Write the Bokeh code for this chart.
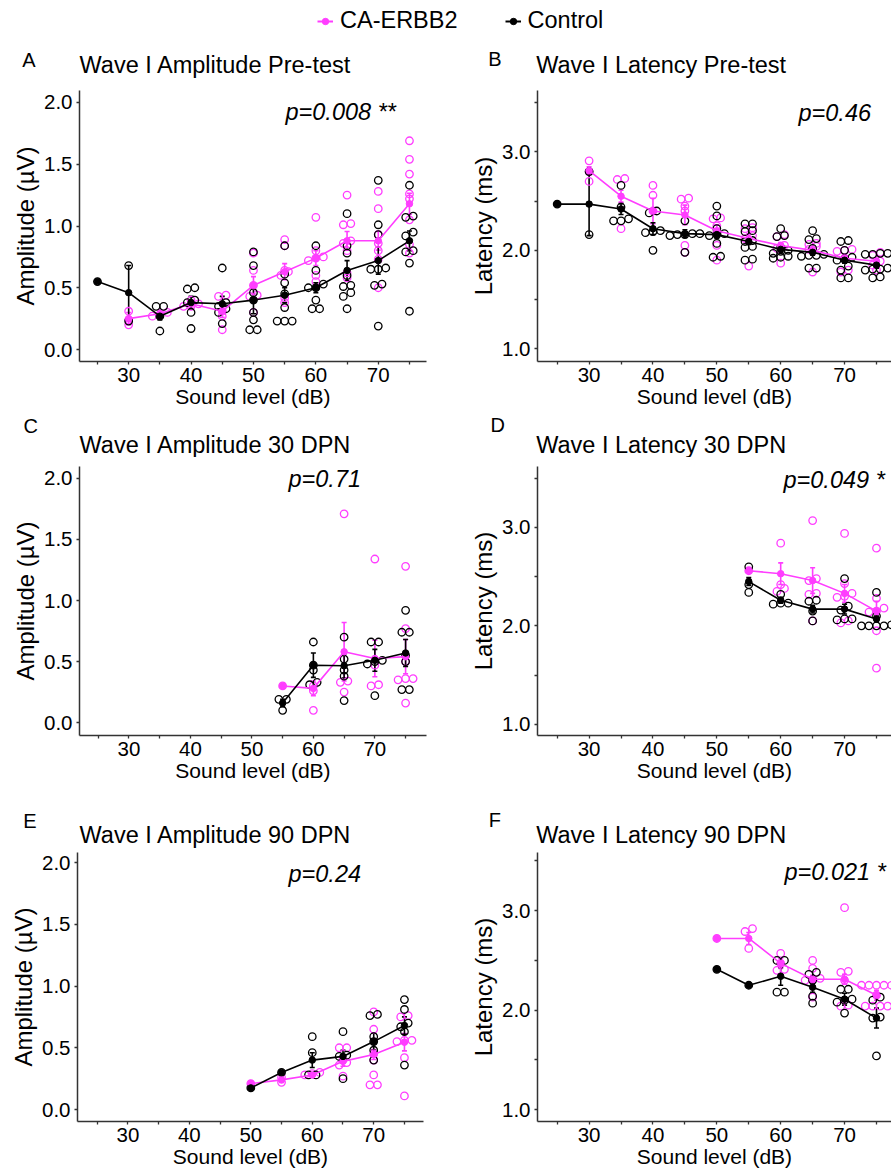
from bokeh.plotting import figure
from bokeh.models import (Range1d, FixedTicker, Label, Whisker, TeeHead, ColumnDataSource,
                          Legend, LegendItem, PrintfTickFormatter)
from bokeh.layouts import column, row
from bokeh.embed import file_html
from bokeh.resources import INLINE

MAGENTA = "#FF3DFF"
BLACK = "#000000"
FONT = "Liberation Sans"

# ---------------- data ----------------
# Panel A: Wave I Amplitude Pre-test
A_ctrl_lv = [25, 30, 35, 40, 45, 50, 55, 60, 65, 70, 75]
A_ctrl_mean = [0.55, 0.46, 0.27, 0.38, 0.37, 0.40, 0.44, 0.50, 0.64, 0.72, 0.88]
A_ctrl_sem = [0.0, 0.22, 0.03, 0.05, 0.06, 0.11, 0.06, 0.04, 0.08, 0.11, 0.08]
A_ctrl_pts = [
    [0.55],
    [0.68, 0.23],
    [0.35, 0.35, 0.27, 0.15],
    [0.50, 0.49, 0.40, 0.38, 0.30, 0.17],
    [0.66, 0.38, 0.35, 0.33, 0.30, 0.21],
    [0.79, 0.68, 0.46, 0.40, 0.30, 0.24, 0.16, 0.16],
    [0.84, 0.61, 0.54, 0.45, 0.34, 0.23, 0.23, 0.23],
    [0.84, 0.64, 0.53, 0.50, 0.50, 0.40, 0.33, 0.33],
    [1.10, 0.84, 0.78, 0.60, 0.52, 0.51, 0.46, 0.43, 0.33],
    [1.37, 1.01, 0.93, 0.66, 0.65, 0.65, 0.53, 0.52, 0.19],
    [1.33, 1.08, 1.07, 0.95, 0.92, 0.80, 0.79, 0.70, 0.31],
]
A_ca_lv = [30, 35, 40, 45, 50, 55, 60, 65, 70, 75]
A_ca_mean = [0.25, 0.29, 0.37, 0.31, 0.52, 0.63, 0.74, 0.88, 0.88, 1.18]
A_ca_sem = [0.05, 0.03, 0.03, 0.05, 0.07, 0.065, 0.06, 0.075, 0.075, 0.085]
A_ca_pts = [
    [0.31, 0.24, 0.20],
    [0.30, 0.28, 0.27],
    [0.40, 0.37, 0.35, 0.35],
    [0.44, 0.43, 0.31, 0.27, 0.16],
    [0.78, 0.64, 0.52, 0.44, 0.43, 0.30],
    [0.89, 0.84, 0.64, 0.63, 0.60, 0.42, 0.38],
    [1.07, 0.80, 0.75, 0.74, 0.72, 0.60, 0.55],
    [1.25, 1.02, 1.01, 0.88, 0.86, 0.80, 0.62, 0.58],
    [1.28, 1.14, 0.93, 0.86, 0.80, 0.73, 0.50],
    [1.69, 1.54, 1.42, 1.26, 1.22, 1.05, 0.85, 0.78],
]

# Panel B: Wave I Latency Pre-test
B_ctrl_lv = [25, 30, 35, 40, 45, 50, 55, 60, 65, 70, 75]
B_ctrl_mean = [2.47, 2.47, 2.42, 2.22, 2.17, 2.16, 2.09, 2.01, 1.98, 1.90, 1.85]
B_ctrl_sem = [0.0, 0.32, 0.055, 0.06, 0.04, 0.04, 0.03, 0.03, 0.03, 0.03, 0.03]
B_ctrl_pts = [
    [2.47],
    [2.80, 2.16],
    [2.66, 2.44, 2.32, 2.30, 2.30],
    [2.40, 2.38, 2.20, 2.19, 2.18, 2.00],
    [2.30, 2.17, 2.17, 2.16, 2.16, 2.15, 1.98],
    [2.45, 2.35, 2.22, 2.17, 2.16, 2.15, 2.07, 1.94, 1.93],
    [2.27, 2.27, 2.20, 2.19, 2.10, 2.09, 2.04, 2.03, 1.91, 1.90],
    [2.22, 2.15, 2.14, 2.03, 2.00, 1.99, 1.97, 1.94, 1.93, 1.92],
    [2.20, 2.12, 2.11, 2.02, 1.96, 1.95, 1.95, 1.94, 1.82, 1.82],
    [2.10, 2.09, 2.00, 1.93, 1.91, 1.90, 1.84, 1.80, 1.72, 1.72],
    [1.97, 1.97, 1.96, 1.96, 1.82, 1.81, 1.81, 1.80, 1.73, 1.72],
]
B_ca_lv = [30, 35, 40, 45, 50, 55, 60, 65, 70, 75]
B_ca_mean = [2.81, 2.55, 2.40, 2.36, 2.20, 2.12, 2.05, 2.00, 1.92, 1.89]
B_ca_sem = [0.04, 0.06, 0.13, 0.10, 0.06, 0.05, 0.03, 0.03, 0.03, 0.03]
B_ca_pts = [
    [2.91, 2.80, 2.70],
    [2.73, 2.72, 2.22],
    [2.66, 2.56, 2.40],
    [2.53, 2.52, 2.45, 2.40, 2.05, 1.98],
    [2.33, 2.32, 2.25, 2.18, 2.05, 1.90],
    [2.23, 2.22, 2.15, 2.12, 1.84],
    [2.16, 2.14, 2.05, 2.02, 1.87],
    [2.07, 2.06, 2.04, 2.01, 1.78],
    [2.01, 2.00, 1.99, 1.92, 1.80, 1.78],
    [1.98, 1.95, 1.89, 1.85, 1.80],
]

# Panel C: Wave I Amplitude 30 DPN
C_ctrl_lv = [55, 60, 65, 70, 75]
C_ctrl_mean = [0.16, 0.47, 0.465, 0.51, 0.57]
C_ctrl_sem = [0.03, 0.10, 0.10, 0.09, 0.11]
C_ctrl_pts = [
    [0.19, 0.19, 0.10],
    [0.66, 0.47, 0.43, 0.33, 0.31],
    [0.70, 0.52, 0.43, 0.38, 0.18],
    [0.66, 0.66, 0.51, 0.50, 0.48, 0.22],
    [0.92, 0.74, 0.74, 0.55, 0.50, 0.27, 0.27],
]
C_ca_lv = [55, 60, 65, 70, 75]
C_ca_mean = [0.30, 0.28, 0.58, 0.525, 0.54]
C_ca_sem = [0.0, 0.06, 0.24, 0.15, 0.14]
C_ca_pts = [
    [0.30],
    [0.30, 0.26, 0.10],
    [1.71, 0.34, 0.33, 0.25],
    [1.34, 0.47, 0.31, 0.30],
    [1.28, 0.77, 0.50, 0.36, 0.36, 0.35, 0.16],
]

# Panel D: Wave I Latency 30 DPN
D_ctrl_lv = [55, 60, 65, 70, 75]
D_ctrl_mean = [2.45, 2.26, 2.17, 2.17, 2.07]
D_ctrl_sem = [0.04, 0.03, 0.04, 0.05, 0.03]
D_ctrl_pts = [
    [2.60, 2.42, 2.34],
    [2.32, 2.23, 2.23, 2.22],
    [2.26, 2.25, 2.15, 2.05],
    [2.48, 2.20, 2.16, 2.07, 2.07, 2.06],
    [2.34, 2.10, 2.01, 2.00, 2.00, 2.00, 2.00],
]
D_ca_lv = [55, 60, 65, 70, 75]
D_ca_mean = [2.56, 2.53, 2.46, 2.33, 2.15]
D_ca_sem = [0.02, 0.11, 0.13, 0.09, 0.10]
D_ca_pts = [
    [2.56],
    [2.84, 2.42, 2.38, 2.35],
    [3.07, 2.48, 2.46, 2.33, 2.32, 2.05],
    [2.94, 2.43, 2.33, 2.30, 2.29, 2.05, 2.03],
    [2.79, 2.28, 2.18, 2.15, 2.14, 1.95, 1.57],
]

# Panel E: Wave I Amplitude 90 DPN
E_ctrl_lv = [50, 55, 60, 65, 70, 75]
E_ctrl_mean = [0.175, 0.30, 0.40, 0.43, 0.55, 0.68]
E_ctrl_sem = [0.0, 0.0, 0.06, 0.05, 0.07, 0.07]
E_ctrl_pts = [
    [0.175],
    [0.30],
    [0.59, 0.46, 0.28, 0.28],
    [0.63, 0.44, 0.43, 0.25],
    [0.77, 0.76, 0.59, 0.55, 0.48, 0.40],
    [0.89, 0.81, 0.70, 0.67, 0.63, 0.36],
]
E_ca_lv = [50, 55, 60, 65, 70, 75]
E_ca_mean = [0.21, 0.24, 0.28, 0.39, 0.445, 0.545]
E_ca_sem = [0.0, 0.02, 0.02, 0.04, 0.04, 0.07]
E_ca_pts = [
    [0.21],
    [0.22, 0.26],
    [0.30, 0.29, 0.28],
    [0.50, 0.50, 0.40, 0.38, 0.36, 0.27],
    [0.79, 0.65, 0.45, 0.40, 0.28, 0.20, 0.20],
    [0.76, 0.75, 0.56, 0.56, 0.55, 0.42, 0.11],
]

# Panel F: Wave I Latency 90 DPN
F_ctrl_lv = [50, 55, 60, 65, 70, 75]
F_ctrl_mean = [2.41, 2.25, 2.34, 2.23, 2.11, 1.92]
F_ctrl_sem = [0.0, 0.0, 0.09, 0.05, 0.06, 0.10]
F_ctrl_pts = [
    [2.41],
    [2.25],
    [2.50, 2.50, 2.18, 2.18],
    [2.38, 2.36, 2.30, 2.14, 2.07],
    [2.21, 2.21, 2.11, 2.10, 2.08, 1.97],
    [2.13, 2.10, 1.93, 1.92, 1.54],
]
F_ca_lv = [50, 55, 60, 65, 70, 75]
F_ca_mean = [2.72, 2.72, 2.47, 2.31, 2.31, 2.15]
F_ca_sem = [0.0, 0.06, 0.05, 0.04, 0.05, 0.05]
F_ca_pts = [
    [2.72],
    [2.82, 2.79, 2.62],
    [2.57, 2.47, 2.41, 2.40],
    [2.50, 2.42, 2.32, 2.31, 2.30, 2.13],
    [3.03, 2.39, 2.38, 2.30, 2.05, 2.04],
    [2.25, 2.25, 2.25, 2.25, 2.25, 2.15, 2.04, 2.04, 2.04, 2.04],
]

X_TICKS = [30, 40, 50, 60, 70]
X_MINOR = [25, 35, 45, 55, 65, 75]
AMP_TICKS = [0.0, 0.5, 1.0, 1.5, 2.0]
LAT_TICKS = [1.0, 2.0, 3.0]
LAT_MINOR = [1.5, 2.5, 3.5]

PT_SIZE = 7.5
W = 891
TY = 8  # vertical correction for text placement


def swarm(levels, pts, px_x, px_y):
    """Simple centred beeswarm: values close in pixel space share a row."""
    xs, ys = [], []
    d = PT_SIZE
    for lv, vals in zip(levels, pts):
        order = sorted(range(len(vals)), key=lambda i: vals[i])
        rows = []
        for i in order:
            if rows and abs(vals[i] - vals[rows[-1][0]]) * px_y < 0.55 * d:
                rows[-1].append(i)
            else:
                rows.append([i])
        for r in rows:
            n = len(r)
            for k, i in enumerate(r):
                xs.append(lv + (k - (n - 1) / 2.0) * d / px_x)
                ys.append(vals[i])
    return xs, ys


def add_text(p, x, y, text, size, style="normal"):
    p.add_layout(Label(x=x, y=y + TY, x_units="screen", y_units="screen", text=text,
                       text_font=FONT, text_font_size=f"{size}px", text_font_style=style,
                       text_color="#000000", text_align="left", text_baseline="alphabetic"))


def make_panel(fw, fh, bl, bt, br, bb, xr, yr, kind, groups, ptxt, ppos):
    p = figure(width=bl + fw + br, height=bt + fh + bb, title=None,
               x_range=Range1d(*xr), y_range=Range1d(*yr),
               output_backend="svg", toolbar_location=None, min_border=0)
    p.min_border_left = bl
    p.min_border_right = br
    p.min_border_top = bt
    p.min_border_bottom = bb
    p.outline_line_color = None
    p.grid.visible = False

    for ax in (p.xaxis[0], p.yaxis[0]):
        ax.axis_line_color = "#333333"
        ax.axis_line_width = 1.5
        ax.major_tick_line_color = "#333333"
        ax.minor_tick_line_color = "#333333"
        ax.major_tick_line_width = 1.3
        ax.minor_tick_line_width = 1.3
        ax.major_tick_in = 0
        ax.minor_tick_in = 0
        ax.major_tick_out = 3
        ax.minor_tick_out = 3
        ax.major_label_text_font = FONT
        ax.major_label_text_font_size = "20.5px"
        ax.major_label_text_color = "#000000"
        ax.axis_label_text_font = FONT
        ax.axis_label_text_font_style = "normal"
        ax.axis_label_text_color = "#000000"

    p.xaxis.ticker = FixedTicker(ticks=X_TICKS, minor_ticks=X_MINOR)
    p.xaxis.axis_label = "Sound level (dB)"
    p.xaxis.axis_label_text_font_size = "21px"
    p.xaxis.major_label_standoff = 3
    p.xaxis.axis_label_standoff = 0

    if kind == "amp":
        p.yaxis.ticker = FixedTicker(ticks=AMP_TICKS)
        p.yaxis.axis_label = "Amplitude (\u00b5V)"
    else:
        p.yaxis.ticker = FixedTicker(ticks=LAT_TICKS, minor_ticks=LAT_MINOR)
        p.yaxis.axis_label = "Latency (ms)"
    p.yaxis.axis_label_standoff = 2
    p.yaxis.formatter = PrintfTickFormatter(format="%.1f")
    p.yaxis.axis_label_text_font_size = "24px"
    p.yaxis.major_label_standoff = 4

    px_x = fw / (xr[1] - xr[0])
    px_y = fh / (yr[1] - yr[0])

    # individual animals (open circles)
    for color, lv, mean, sem, pts in groups:
        xs, ys = swarm(lv, pts, px_x, px_y)
        p.scatter(xs, ys, marker="circle", size=PT_SIZE, fill_color=None,
                  line_color=color, line_width=1.3)
    # means, lines, error bars
    for color, lv, mean, sem, pts in groups:
        p.line(lv, mean, line_color=color, line_width=1.6)
        b = [l for l, s in zip(lv, sem) if s > 0]
        up = [m + s for m, s in zip(mean, sem) if s > 0]
        lo = [m - s for m, s in zip(mean, sem) if s > 0]
        src = ColumnDataSource(dict(base=b, upper=up, lower=lo))
        p.add_layout(Whisker(source=src, base="base", upper="upper", lower="lower",
                             line_color=color, line_width=1.6,
                             upper_head=TeeHead(size=5, line_color=color, line_width=1.6),
                             lower_head=TeeHead(size=5, line_color=color, line_width=1.6)))
        p.scatter(lv, mean, marker="circle", size=6.5, fill_color=color, line_color=color)

    add_text(p, ppos[0], ppos[1], ptxt, 23.5, "italic")
    return p


def strip(h, texts):
    s = figure(width=W, height=h, title=None, output_backend="svg", toolbar_location=None,
               x_axis_location=None, y_axis_location=None, min_border=0,
               x_range=Range1d(0, W), y_range=Range1d(0, h))
    s.outline_line_color = None
    s.grid.visible = False
    for x, y, t, size in texts:
        add_text(s, x, y, t, size)
    return s


# ---------------- header strips (panel letters and titles) ----------------
s1 = strip(80, [(21.7, 13, "A", 20), (79, 7.3, "Wave I Amplitude Pre-test", 23.5),
                (487.7, 13.3, "B", 20), (535.7, 7.3, "Wave I Latency  Pre-test", 23.5)])
s2 = strip(47, [(23, 24, "C", 20), (79, 4.5, "Wave I Amplitude 30 DPN", 23.5),
                (490, 25, "D", 20), (535.7, 4.5, "Wave I Latency  30 DPN", 23.5)])
s3 = strip(65, [(22.7, 21, "E", 20), (79, 6.3, "Wave I Amplitude 90 DPN", 23.5),
                (488.3, 21.7, "F", 20), (535.7, 6.3, "Wave I Latency  90 DPN", 23.5)])

# legend in the top strip
nan = float("nan")
r1 = s1.line(x=[nan], y=[nan], line_color=MAGENTA, line_width=2)
r2 = s1.scatter(x=[nan], y=[nan], marker="circle", size=8, fill_color=MAGENTA, line_color=MAGENTA)
r3 = s1.line(x=[nan], y=[nan], line_color=BLACK, line_width=2)
r4 = s1.scatter(x=[nan], y=[nan], marker="circle", size=8, fill_color=BLACK, line_color=BLACK)
legend = Legend(items=[LegendItem(label="CA-ERBB2", renderers=[r1, r2]),
                       LegendItem(label="Control", renderers=[r3, r4])],
                orientation="horizontal", location=(317, 46),
                label_text_font=FONT, label_text_font_size="23.5px",
                label_text_color="#000000",
                glyph_width=16, glyph_height=20, label_height=20,
                label_standoff=7, spacing=47, padding=0, margin=0,
                border_line_color=None, background_fill_alpha=0)
s1.add_layout(legend)

# ---------------- panels ----------------
XR = (21.92, 77.35)
pA = make_panel(347, 272, 79, 10, 34, 48, (22.12, 77.73), (-0.097, 2.097), "amp",
                [(MAGENTA, A_ca_lv, A_ca_mean, A_ca_sem, A_ca_pts),
                 (BLACK, A_ctrl_lv, A_ctrl_mean, A_ctrl_sem, A_ctrl_pts)],
                "p=0.008 **", (206, 242))
pB = make_panel(354, 278, 77, 3, 0, 49, XR, (0.871, 3.624), "lat",
                [(MAGENTA, B_ca_lv, B_ca_mean, B_ca_sem, B_ca_pts),
                 (BLACK, B_ctrl_lv, B_ctrl_mean, B_ctrl_sem, B_ctrl_pts)],
                "p=0.46", (261, 241))
pC = make_panel(347, 270, 79, 9, 34, 48, (21.96, 78.4), (-0.106, 2.098), "amp",
                [(MAGENTA, C_ca_lv, C_ca_mean, C_ca_sem, C_ca_pts),
                 (BLACK, C_ctrl_lv, C_ctrl_mean, C_ctrl_sem, C_ctrl_pts)],
                "p=0.71", (209, 249))
pD = make_panel(354, 278, 77, 0, 0, 49, XR, (0.885, 3.62), "lat",
                [(MAGENTA, D_ca_lv, D_ca_mean, D_ca_sem, D_ca_pts),
                 (BLACK, D_ctrl_lv, D_ctrl_mean, D_ctrl_sem, D_ctrl_pts)],
                "p=0.049 *", (246, 248))
pE = make_panel(346, 269, 77, 3, 37, 49, (21.8, 78.1), (-0.097, 2.081), "amp",
                [(MAGENTA, E_ca_lv, E_ca_mean, E_ca_sem, E_ca_pts),
                 (BLACK, E_ctrl_lv, E_ctrl_mean, E_ctrl_sem, E_ctrl_pts)],
                "p=0.24", (211, 240))
pF = make_panel(354, 273, 77, 0, 0, 48, XR, (0.881, 3.584), "lat",
                [(MAGENTA, F_ca_lv, F_ca_mean, F_ca_sem, F_ca_pts),
                 (BLACK, F_ctrl_lv, F_ctrl_mean, F_ctrl_sem, F_ctrl_pts)],
                "p=0.021 *", (247, 242))

layout = column(s1, row(pA, pB), s2, row(pC, pD), s3, row(pE, pF))
open("out.html", "w").write(file_html(layout, INLINE))
